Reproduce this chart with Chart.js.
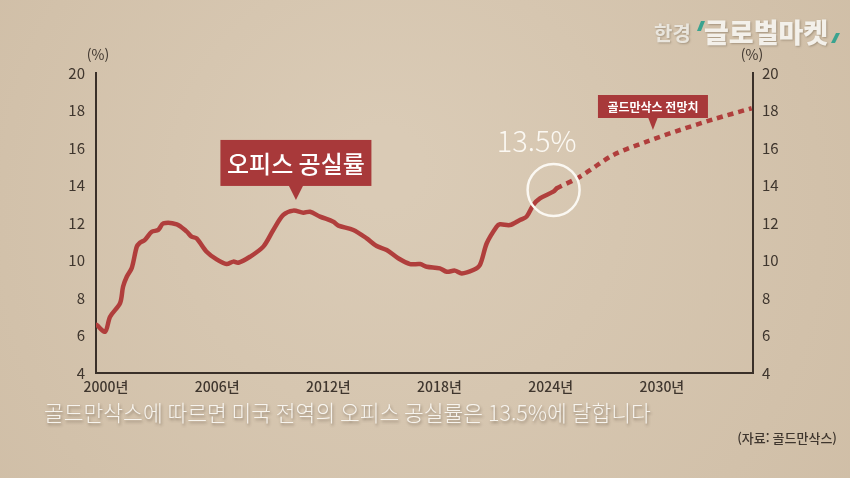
<!DOCTYPE html>
<html lang="ko">
<head>
<meta charset="utf-8">
<title>오피스 공실률</title>
<script src="https://cdn.jsdelivr.net/npm/chart.js@4.4.1/dist/chart.umd.min.js"></script>
<style>
  html, body { margin: 0; padding: 0; background: #d5c6b1; }
  #chart { display: block; }
</style>
</head>
<body>
<canvas id="chart" width="850" height="478"></canvas>
<script>
// 실적치 (연도, %)
const years = [1999.5, 1999.95, 2000.22, 2000.76, 2000.92, 2001.12, 2001.39, 2001.66, 2001.83, 2002.1,
    2002.47, 2002.82, 2003.09, 2003.82, 2004.36, 2004.62, 2004.89, 2005.43, 2005.97, 2006.51,
    2006.87, 2007.14, 2007.77, 2008.49, 2009.03, 2009.57, 2010.11, 2010.65, 2011.01, 2011.55,
    2012.27, 2012.54, 2013.35, 2014.07, 2014.61, 2015.15, 2015.77, 2016.41, 2016.95, 2017.31,
    2018.02, 2018.39, 2018.83, 2019.2, 2019.82, 2020.18, 2020.55, 2021.08, 2021.26, 2021.8,
    2022.34, 2022.7, 2023.06, 2023.42, 2024.14, 2024.32];
const vacancy = [6.56, 6.2, 7.0, 7.73, 8.6, 9.13, 9.6, 10.73, 10.95, 11.1,
    11.53, 11.63, 11.98, 11.93, 11.54, 11.27, 11.18, 10.47, 10.06, 9.81,
    9.94, 9.88, 10.2, 10.74, 11.63, 12.43, 12.66, 12.55, 12.6, 12.34,
    12.07, 11.86, 11.63, 11.18, 10.77, 10.56, 10.12, 9.81, 9.81, 9.67,
    9.58, 9.4, 9.46, 9.31, 9.49, 9.76, 10.92, 11.8, 11.93, 11.89,
    12.16, 12.34, 12.96, 13.31, 13.67, 13.85];

// 골드만삭스 전망치
const forecastYears = [2024.32, 2025.58, 2027.38, 2029.18, 2030.98, 2032.78, 2034.85];
const forecast = [13.85, 14.47, 15.63, 16.34, 16.96, 17.53, 18.12];

// 축 눈금
const xTickYears = [2000, 2006, 2012, 2018, 2024, 2030];
const yTicks = [4, 6, 8, 10, 12, 14, 16, 18, 20];

// 주석 위치 (데이터 좌표)
const vacancyLabelAt = [2010.25, 13.23];
const forecastLabelAt = [2029.52, 16.96];
const highlightAt = [2024.05, 13.76];

const FONT = '"Noto Sans CJK KR", "Noto Sans", sans-serif';
const RED = '#b03e3c';
const BOX = '#a8393a';
const INK = '#3f362e';

function toPoints(xs, ys) {
    return xs.map((x, i) => ({ x: x, y: ys[i] }));
}

// 배경
const backgroundPlugin = {
    id: 'paper',
    beforeDraw(chart) {
        const { ctx, width, height } = chart;
        ctx.save();
        const g = ctx.createRadialGradient(width * 0.45, height * 0.35, 40, width * 0.5, height * 0.5, width * 0.7);
        g.addColorStop(0, '#dacbb6');
        g.addColorStop(1, '#cebca4');
        ctx.fillStyle = g;
        ctx.fillRect(0, 0, width, height);
        ctx.restore();
    }
};

function drawCallout(ctx, tipX, tipY, gap, w, h, pointer, text, font) {
    const bottom = tipY - gap;
    const top = bottom - h;
    const left = tipX - w / 2;
    ctx.fillStyle = BOX;
    ctx.fillRect(left, top, w, h);
    ctx.beginPath();
    ctx.moveTo(tipX - pointer / 2, bottom - 1);
    ctx.lineTo(tipX + pointer / 2, bottom - 1);
    ctx.lineTo(tipX, tipY);
    ctx.closePath();
    ctx.fill();
    ctx.fillStyle = '#ffffff';
    ctx.font = font;
    ctx.textAlign = 'center';
    ctx.textBaseline = 'middle';
    ctx.fillText(text, tipX, top + h / 2 + 1);
}

// 주석, 자막, 로고, 출처
const annotationPlugin = {
    id: 'notes',
    afterDatasetsDraw(chart) {
        const { ctx, chartArea } = chart;
        const xs = chart.scales.x;
        const ys = chart.scales.y;
        ctx.save();

        // (%) 단위
        ctx.fillStyle = INK;
        ctx.font = '14px ' + FONT;
        ctx.textAlign = 'center';
        ctx.textBaseline = 'middle';
        ctx.fillText('(%)', chartArea.left + 2, chartArea.top - 18);
        ctx.fillText('(%)', chartArea.right - 1, chartArea.top - 18);

        // 오피스 공실률 말풍선
        drawCallout(ctx, xs.getPixelForValue(vacancyLabelAt[0]), ys.getPixelForValue(vacancyLabelAt[1]),
            14, 151, 46, 15, '오피스 공실률', '500 24px ' + FONT);

        // 골드만삭스 전망치 말풍선
        drawCallout(ctx, xs.getPixelForValue(forecastLabelAt[0]), ys.getPixelForValue(forecastLabelAt[1]),
            12, 110, 23, 10, '골드만삭스 전망치', 'bold 12px ' + FONT);

        // 13.5% 강조
        const hx = xs.getPixelForValue(highlightAt[0]);
        const hy = ys.getPixelForValue(highlightAt[1]);
        ctx.strokeStyle = '#fbf8f2';
        ctx.lineWidth = 2.5;
        ctx.beginPath();
        ctx.arc(hx + 2, hy, 26, 0, Math.PI * 2);
        ctx.stroke();
        ctx.fillStyle = '#fbf8f2';
        ctx.font = '300 29px ' + FONT;
        ctx.textAlign = 'center';
        ctx.textBaseline = 'middle';
        ctx.fillText('13.5%', hx - 15, hy - 49);

        // 자막
        ctx.font = '300 21.5px ' + FONT;
        ctx.textAlign = 'left';
        ctx.shadowColor = 'rgba(60, 45, 30, 0.45)';
        ctx.shadowBlur = 3;
        ctx.shadowOffsetX = 1;
        ctx.shadowOffsetY = 2;
        ctx.fillStyle = '#f7f4ee';
        ctx.fillText('골드만삭스에 따르면 미국 전역의 오피스 공실률은 13.5%에 달합니다', 44, 413);

        // 로고
        ctx.shadowColor = 'rgba(80, 65, 45, 0.35)';
        ctx.shadowBlur = 2;
        ctx.shadowOffsetX = 1;
        ctx.shadowOffsetY = 1;
        ctx.fillStyle = '#e9e5dd';
        ctx.font = 'bold 20px ' + FONT;
        ctx.fillText('한경', 654, 33);
        ctx.fillStyle = '#f3f0ea';
        ctx.font = '900 27px ' + FONT;
        ctx.fillText('글로벌마켓', 704, 33);
        ctx.shadowColor = 'transparent';
        ctx.fillStyle = '#3aa38f';
        ctx.beginPath();
        ctx.moveTo(697, 31); ctx.lineTo(701, 31); ctx.lineTo(705, 21); ctx.lineTo(701, 21);
        ctx.closePath(); ctx.fill();
        ctx.beginPath();
        ctx.moveTo(831, 43); ctx.lineTo(835, 43); ctx.lineTo(840, 33); ctx.lineTo(836, 33);
        ctx.closePath(); ctx.fill();

        // 출처
        ctx.fillStyle = INK;
        ctx.font = '500 13px ' + FONT;
        ctx.textAlign = 'right';
        ctx.fillText('(자료: 골드만삭스)', 837, 438);

        ctx.restore();
    }
};

const tickFont = { family: FONT, size: 15 };

const chart = new Chart(document.getElementById('chart'), {
    type: 'line',
    data: {
        datasets: [{
            label: '전망치',
            data: toPoints(forecastYears, forecast),
            borderColor: RED,
            borderWidth: 4.5,
            borderDash: [6, 5],
            borderCapStyle: 'butt',
            pointRadius: 0,
            tension: 0.3,
            fill: false
        }, {
            label: '오피스 공실률',
            data: toPoints(years, vacancy),
            borderColor: RED,
            borderWidth: 4.5,
            borderCapStyle: 'round',
            borderJoinStyle: 'round',
            pointRadius: 0,
            tension: 0.3,
            fill: false
        }]
    },
    options: {
        responsive: false,
        animation: false,
        devicePixelRatio: 1,
        layout: { padding: { top: 73, left: 0, right: 0, bottom: 0 } },
        plugins: {
            legend: { display: false },
            tooltip: { enabled: false }
        },
        scales: {
            x: {
                type: 'linear',
                min: 1999.46,
                max: 2034.92,
                afterBuildTicks: (axis) => { axis.ticks = xTickYears.map(v => ({ value: v })); },
                afterFit: (axis) => { axis.height = 105; },
                grid: { display: false, drawTicks: false },
                border: { display: true, color: '#3a3029', width: 2 },
                ticks: {
                    padding: 5,
                    color: INK,
                    font: { family: FONT, size: 14, weight: '500' },
                    maxRotation: 0,
                    callback: (v) => v + '년'
                }
            },
            y: {
                position: 'left',
                min: 4,
                max: 20,
                afterBuildTicks: (axis) => { axis.ticks = yTicks.map(v => ({ value: v })); },
                afterFit: (axis) => { axis.width = 96; },
                grid: { display: false, drawTicks: false },
                border: { display: true, color: '#3a3029', width: 2 },
                ticks: { padding: 11, color: INK, font: tickFont }
            },
            y2: {
                position: 'right',
                min: 4,
                max: 20,
                afterBuildTicks: (axis) => { axis.ticks = yTicks.map(v => ({ value: v })); },
                afterFit: (axis) => { axis.width = 97; },
                grid: { display: false, drawTicks: false },
                border: { display: true, color: '#3a3029', width: 2 },
                ticks: { padding: 9, color: INK, font: tickFont }
            }
        }
    },
    plugins: [backgroundPlugin, annotationPlugin]
});
</script>
</body>
</html>
